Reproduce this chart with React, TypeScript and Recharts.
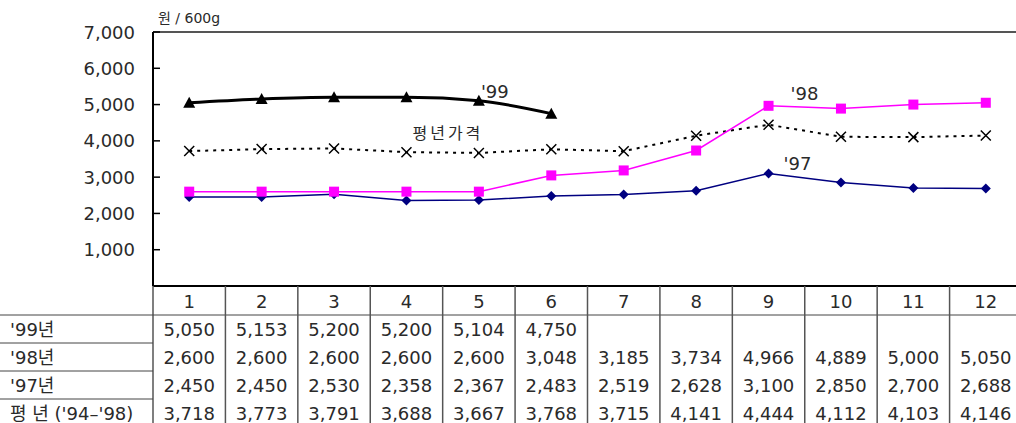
import React from 'react';
import { LineChart, Line, XAxis, YAxis, LabelList, ReferenceLine } from 'recharts';

const months = ['1', '2', '3', '4', '5', '6', '7', '8', '9', '10', '11', '12'];
const price99 = [5050, 5153, 5200, 5200, 5104, 4750, null, null, null, null, null, null];
const price98 = [2600, 2600, 2600, 2600, 2600, 3048, 3185, 3734, 4966, 4889, 5000, 5050];
const price97 = [2450, 2450, 2530, 2358, 2367, 2483, 2519, 2628, 3100, 2850, 2700, 2688];
const priceAvg = [3718, 3773, 3791, 3688, 3667, 3768, 3715, 4141, 4444, 4112, 4103, 4146];
const rowLabels = ["'99년", "'98년", "'97년", "평 년 ('94–'98)"];
const yTicks = [0, 1000, 2000, 3000, 4000, 5000, 6000, 7000];

const data = months.map((m, i) => ({
  month: m,
  y99: price99[i],
  y98: price98[i],
  y97: price97[i],
  avg: priceAvg[i],
}));
const rows = [price99, price98, price97, priceAvg];

const W = 1022;
const H = 440;
const LEFT = 153;
const TOP = 32;
const AXIS_Y = 286;
const BW = (W - LEFT) / months.length;
const FONT = "'DejaVu Sans', 'Noto Sans CJK KR', sans-serif";
const INK = '#2a2a2a';

const fmt = (v: number | null) => (v == null ? '' : v.toLocaleString('en-US'));

// x axis tick draws one column of the data table under the plot
function TableTick(props: any) {
  const { x, payload } = props;
  const i = payload.index;
  const left = x - BW / 2;
  return (
    <g fontFamily={FONT} fill={INK}>
      <line x1={left} y1={AXIS_Y} x2={left} y2={H} stroke="#555" strokeWidth={1.5} />
      <text x={x} y={301} textAnchor="middle" dominantBaseline="central" fontSize={18}>
        {payload.value}
      </text>
      {rows.map((r, k) => (
        <text key={k} x={x} y={329 + k * 28} textAnchor="middle" dominantBaseline="central" fontSize={18}>
          {fmt(r[i])}
        </text>
      ))}
      {i === 0 && (
        <g>
          <line x1={0} y1={315} x2={W} y2={315} stroke="#444" strokeWidth={1} />
          {[343, 371, 399].map((yy) => (
            <line key={yy} x1={0} y1={yy} x2={LEFT} y2={yy} stroke="#444" strokeWidth={1} />
          ))}
          {rowLabels.map((t, k) => (
            <text key={t} x={10} y={329 + k * 28} dominantBaseline="central" fontSize={18}>
              {t}
            </text>
          ))}
        </g>
      )}
    </g>
  );
}

function YTick(props: any) {
  const { x, y, payload } = props;
  if (payload.value === 0) return <g />;
  return (
    <g>
      <line x1={LEFT} y1={y} x2={LEFT + 7} y2={y} stroke="#000" strokeWidth={1.5} />
      <text x={x} y={y} textAnchor="end" dominantBaseline="central" fontSize={18} fontFamily={FONT} fill={INK}>
        {payload.value.toLocaleString('en-US')}
      </text>
    </g>
  );
}

const Triangle = (p: any) =>
  p.cx == null || p.value == null ? <g key={p.key} /> : (
    <polygon key={p.key} points={`${p.cx},${p.cy - 6} ${p.cx - 6},${p.cy + 5} ${p.cx + 6},${p.cy + 5}`} fill="#000" />
  );
const Square = (p: any) => (
  <rect key={p.key} x={p.cx - 5} y={p.cy - 5} width={10} height={10} fill="#FF00FF" />
);
const Diamond = (p: any) => (
  <polygon key={p.key} points={`${p.cx},${p.cy - 5} ${p.cx + 5},${p.cy} ${p.cx},${p.cy + 5} ${p.cx - 5},${p.cy}`} fill="#000080" />
);
const Cross = (p: any) => (
  <path key={p.key} d={`M${p.cx - 5},${p.cy - 5}L${p.cx + 5},${p.cy + 5}M${p.cx - 5},${p.cy + 5}L${p.cx + 5},${p.cy - 5}`} stroke="#000" strokeWidth={1.5} />
);

const tag = (text: string, at: number, dx: number, dy: number, size = 18, spacing = 0) =>
  (p: any) =>
    p.index === at ? (
      <text x={p.x + dx} y={p.y + dy} dominantBaseline="central" fontSize={size} fontFamily={FONT} fill={INK} letterSpacing={spacing}>
        {text}
      </text>
    ) : null;

export default function App() {
  return (
    <div style={{ position: 'absolute', left: 0, top: 0, width: 1016, height: 423, overflow: 'hidden', background: '#fff' }}>
      <div style={{ position: 'absolute', left: 158, top: 7, fontSize: 14, fontFamily: FONT, color: INK }}>원 / 600g</div>
      <LineChart width={W} height={H} data={data} margin={{ top: TOP, right: 0, bottom: 0, left: 0 }}>
        <XAxis
          dataKey="month"
          scale="band"
          interval={0}
          height={H - AXIS_Y}
          tick={<TableTick />}
          tickLine={false}
          axisLine={{ stroke: '#000', strokeWidth: 2 }}
        />
        <YAxis
          width={LEFT}
          domain={[0, 7000]}
          ticks={yTicks}
          interval={0}
          tickSize={0}
          tickMargin={18}
          tick={<YTick />}
          axisLine={{ stroke: '#000', strokeWidth: 2 }}
        />
        <ReferenceLine y={7000} stroke="#555" strokeWidth={2} />
        <Line dataKey="avg" stroke="#000" strokeWidth={2} strokeDasharray="3 5" dot={Cross} activeDot={false} isAnimationActive={false}>
          <LabelList dataKey="avg" content={tag('평년가격', 3, 6, -19, 16, 3)} />
        </Line>
        <Line dataKey="y97" stroke="#000080" strokeWidth={1.5} dot={Diamond} activeDot={false} isAnimationActive={false}>
          <LabelList dataKey="y97" content={tag("'97", 8, 15, -10)} />
        </Line>
        <Line dataKey="y98" stroke="#FF00FF" strokeWidth={1.5} dot={Square} activeDot={false} isAnimationActive={false}>
          <LabelList dataKey="y98" content={tag("'98", 8, 22, -12)} />
        </Line>
        <Line type="monotone" dataKey="y99" stroke="#000" strokeWidth={3} dot={Triangle} activeDot={false} isAnimationActive={false}>
          <LabelList dataKey="y99" content={tag("'99", 4, 2, -9)} />
        </Line>
      </LineChart>
    </div>
  );
}
